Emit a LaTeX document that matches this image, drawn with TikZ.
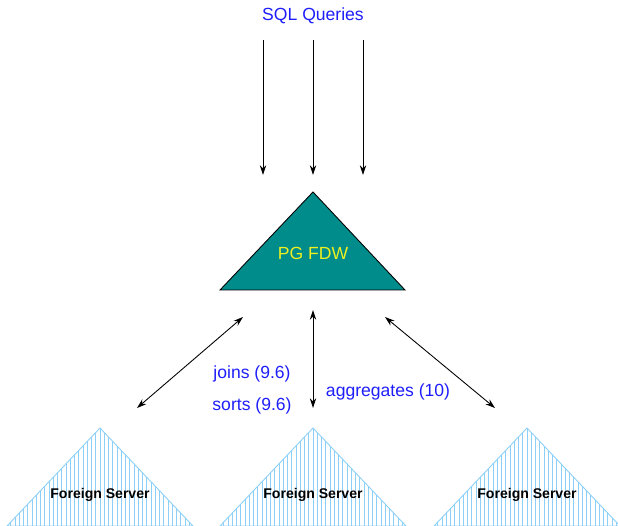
\documentclass[tikz,border=0pt]{standalone}
\usepackage{fontspec}
\setmainfont{Liberation Sans}
\definecolor{FDWcolor}{HTML}{008C8A}
\definecolor{FScolor}{HTML}{8CCFF8}
\definecolor{LBLcolor}{HTML}{1E1EFA}
\definecolor{TXTcolor}{HTML}{F0F020}
\usetikzlibrary{arrows.meta}

\begin{document}
\begin{tikzpicture}[x=0.02cm, y=-0.02cm]
    \tikzset{%
        lbl/.style={text=LBLcolor, font=\fontsize{10pt}{12pt}\selectfont},
        link/.style={line width=0.5pt, {Stealth[length=5.5pt, width=3.6pt]}-{Stealth[length=5.5pt, width=3.6pt]}},
        query/.style={line width=0.5pt, -{Stealth[length=5.5pt, width=3.6pt]}},
        pics/fserver/.style={code={%
                        \begin{scope}
                            \clip (0, 0) -- (-93, 98) -- (93, 98) -- cycle;
                            % hatch
                            \foreach \i in {-22, ..., 22} {%
                                    \draw [FScolor, line width=0.45pt] ({\i*4.25}, 0) -- ++(0, 98);
                                };
                        \end{scope}
                        \draw [FScolor, line width=0.5pt] (0, 0) -- (-93, 98) -- (93, 98) -- cycle;
                        \node (-txt) at (0, 67) {\bfseries\fontsize{8pt}{8pt}\selectfont Foreign Server};
                    }
            }
    }

    \useasboundingbox (0, 0) rectangle (618, 526);

    % queries
    \node [lbl] (sql) at (313, 16) {SQL Queries};
    \foreach \x [count=\n] in {263, 313, 363} {%
            \coordinate (qs\n) at (\x, 40);
            \coordinate (qe\n) at (\x, 175);
            \draw [query] (qs\n) -- (qe\n);
        };

    % PG FDW
    \fill [FDWcolor, draw=black, line width=0.5pt] (313, 192) -- (220, 290) -- (405, 290) -- cycle;
    \node [text=TXTcolor, font=\fontsize{10pt}{12pt}\selectfont] (fdw) at (313, 253) {PG FDW};

    % foreign servers
    \pic (fs1) at (100, 428) {fserver};
    \pic (fs2) at (313, 428) {fserver};
    \pic (fs3) at (527, 428) {fserver};

    % links
    \coordinate (la) at (243, 317);
    \coordinate (lb) at (137, 408);
    \coordinate (ma) at (313, 310);
    \coordinate (mb) at (313, 408);
    \coordinate (ra) at (385, 317);
    \coordinate (rb) at (495, 408);
    \draw [link] (la) -- (lb);
    \draw [link] (ma) -- (mb);
    \draw [link] (ra) -- (rb);

    \node [lbl] (joins) at (252, 374) {joins (9.6)};
    \node [lbl] (sorts) at (252, 406) {sorts (9.6)};
    \node [lbl] (aggr) at (388, 392) {aggregates (10)};

\end{tikzpicture}
\end{document}
